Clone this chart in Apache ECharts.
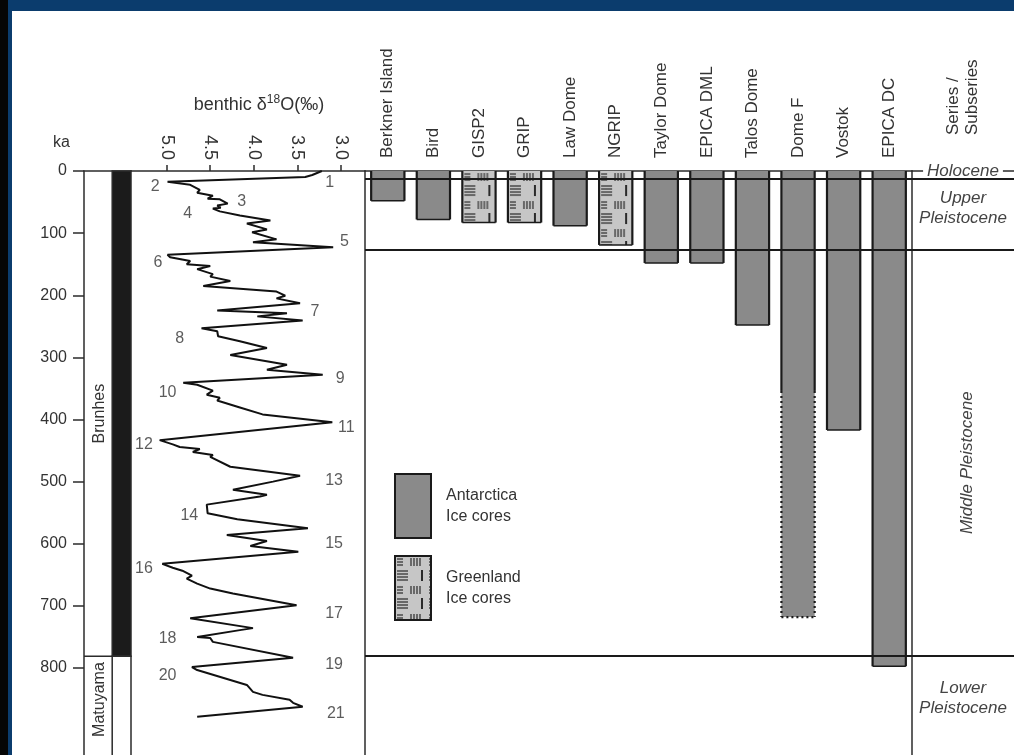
<!DOCTYPE html>
<html>
<head>
<meta charset="utf-8">
<script src="https://cdn.jsdelivr.net/npm/echarts@6/dist/echarts.min.js"></script>
<style>
html,body{margin:0;padding:0;background:#fff;}
#c{width:1014px;height:755px;}
</style>
</head>
<body>
<div id="c"></div>
<script>
// ---------- data ----------
const kaTicks = [0, 100, 200, 300, 400, 500, 600, 700, 800];
const d18oTicks = [5.0, 4.5, 4.0, 3.5, 3.0];

// benthic d18O curve
const curveKa = [0,6.4,9.6,17.5,22.3,30.3,35,39.8,44.6,45.5,52.5,55.7,59,60.5,65,71.6,79.6,84.4,94,98.7,110,114.6,122.6,
  135,139,145,150,153,158,166,170,177,185,194,200.7,205,213,224.6,229,234,240.5,253,258,266,274,285,296,312,320,328,
  341,344,353.6,360,365,369.5,380.6,391.8,404.5,
  433.2,440,444.3,447.5,452.3,457,460.2,476,490.5,500,513,521,524,537,551,560.6,575,586,595.6,603.6,613,
  632.3,638.6,643.4,651.4,656.2,664.1,672.1,680,699,719.9,735.8,739,750,751.6,757.9,783.4,
  798.5,803.3,827.2,838.4,843.2,851.2,856,862.4,878.3];
const curveD18o = [3.22,3.33,3.41,4.99,4.73,4.62,4.65,4.47,4.53,4.39,4.30,4.42,4.38,4.47,4.39,4.16,3.81,4.08,3.85,4.02,3.74,4.01,3.09,
  4.99,4.96,4.73,4.77,4.50,4.65,4.47,4.50,4.27,4.58,3.74,3.64,3.74,3.47,4.42,3.62,3.96,3.44,4.60,4.42,4.41,4.16,3.85,4.27,3.62,3.85,3.21,
  4.81,4.65,4.47,4.54,4.39,4.42,4.16,3.90,3.10,
  5.08,4.93,4.85,4.62,4.70,4.47,4.50,4.27,3.47,3.78,4.24,3.85,3.93,4.54,4.53,4.19,3.38,4.31,3.85,4.04,3.49,
  5.05,4.93,4.82,4.71,4.77,4.65,4.50,4.24,3.51,4.73,4.01,4.16,4.65,4.50,4.47,3.55,
  4.71,4.65,4.08,4.01,3.90,3.59,3.55,3.44,4.65];

// marine isotope stage labels
const misLabels = ['1','2','3','4','5','6','7','8','9','10','11','12','13','14','15','16','17','18','19','20','21'];
const misD18o = [3.13,5.13,4.14,4.76,2.96,5.10,3.30,4.85,3.01,4.99,2.94,5.26,3.08,4.74,3.08,5.26,3.08,4.99,3.08,4.99,3.06];
const misKa   = [19,25,49,69,113,148,226,270,334,357,413,440,499,555,600,640,713,753,795,812,873];

// ice cores
const cores = ['Berkner Island','Bird','GISP2','GRIP','Law Dome','NGRIP','Taylor Dome','EPICA DML','Talos Dome','Dome F','Vostok','EPICA DC'];
const coreRegion = ['Antarctica','Antarctica','Greenland','Greenland','Antarctica','Greenland','Antarctica','Antarctica','Antarctica','Antarctica','Antarctica','Antarctica'];
const coreEndKa = [48, 78, 83, 83, 88, 119, 148, 148, 248, 354, 417, 797];
const coreExtendedKa = [0, 0, 0, 0, 0, 0, 0, 0, 0, 718, 0, 0];

// magnetic polarity chrons
const chronNames = ['Brunhes', 'Matuyama'];
const chronStartKa = [0, 781];
const chronEndKa = [781, 2581];
const chronNormal = [true, false];

// series / subseries
const epochNames = ['Holocene', 'Upper\nPleistocene', 'Middle Pleistocene', 'Lower\nPleistocene'];
const epochStartKa = [0, 11.7, 126, 781];
const epochEndKa = [11.7, 126, 781, 1806];
const boundaryKa = [11.7, 126, 781];

// ---------- styling helpers ----------
const KA_MAX = 940;
const TOP = 171, H = 590;
const LINE = '#2b2b2b';
const TXT = '#333';
const FONT = '"Liberation Sans", Arial, Helvetica, sans-serif';

function makeHatch() {
  const c = document.createElement('canvas');
  c.width = 32; c.height = 28;
  const g = c.getContext('2d');
  g.fillStyle = '#c6c6c6'; g.fillRect(0, 0, 32, 28);
  g.strokeStyle = '#2a2a2a'; g.lineWidth = 1.2;
  const ln = (a, b, cx, d) => { g.beginPath(); g.moveTo(a, b); g.lineTo(cx, d); g.stroke(); };
  [3, 6, 9].forEach(y => ln(2, y, 8, y));
  [16, 19, 22, 25].forEach(x => ln(x, 2, x, 10));
  [15, 18, 21, 24].forEach(y => ln(2, y, 13, y));
  g.lineWidth = 2; ln(27, 14, 27, 25);
  return c;
}
const hatch = makeHatch();

function coreRender(isPattern) {
  return function (params, api) {
    const i = api.value(0), end = api.value(1), ext = api.value(2);
    const p0 = api.coord([i, 0]);
    const p1 = api.coord([i, end]);
    const w = api.size([1, 0])[0] * 0.73;
    const x0 = p0[0] - w / 2, x1 = p0[0] + w / 2;
    const fill = isPattern ? { image: hatch, repeat: 'repeat', x: x0, y: p0[1] } : '#8a8a8a';
    const side = { stroke: '#1a1a1a', lineWidth: 2.2 };
    const ch = [];
    ch.push({ type: 'rect', shape: { x: x0, y: p0[1], width: w, height: p1[1] - p0[1] }, style: { fill: fill } });
    ch.push({ type: 'line', shape: { x1: x0, y1: p0[1], x2: x0, y2: p1[1] }, style: side });
    ch.push({ type: 'line', shape: { x1: x1, y1: p0[1], x2: x1, y2: p1[1] }, style: side });
    if (ext > end) {
      const p2 = api.coord([i, ext]);
      const dot = { stroke: '#1a1a1a', lineWidth: 2.2, lineDash: [2, 3] };
      ch.push({ type: 'rect', shape: { x: x0, y: p1[1], width: w, height: p2[1] - p1[1] }, style: { fill: fill } });
      ch.push({ type: 'line', shape: { x1: x0, y1: p1[1], x2: x0, y2: p2[1] }, style: dot });
      ch.push({ type: 'line', shape: { x1: x1, y1: p1[1], x2: x1, y2: p2[1] }, style: dot });
      ch.push({ type: 'line', shape: { x1: x0, y1: p2[1], x2: x1, y2: p2[1] }, style: dot });
    } else {
      ch.push({ type: 'line', shape: { x1: x0, y1: p1[1], x2: x1, y2: p1[1] }, style: { stroke: '#1a1a1a', lineWidth: 1.5 } });
    }
    return { type: 'group', children: ch };
  };
}

function coreData(region) {
  const out = [];
  cores.forEach((c, i) => { if (coreRegion[i] === region) out.push([i, coreEndKa[i], coreExtendedKa[i]]); });
  return out;
}

const yBase = { type: 'value', min: 0, max: KA_MAX, inverse: true, splitLine: { show: false } };
const hidden = { type: 'value', min: 0, max: 1, show: false };

const option = {
  animation: false,
  backgroundColor: '#fff',
  textStyle: { fontFamily: FONT },
  graphic: [
    { type: 'rect', shape: { x: 0, y: 0, width: 1014, height: 11 }, style: { fill: '#0b3c6d' }, silent: true },
    { type: 'rect', shape: { x: 0, y: 0, width: 8, height: 755 }, style: { fill: '#050505' }, silent: true },
    { type: 'rect', shape: { x: 8, y: 11, width: 4, height: 744 }, style: { fill: '#0b3c6d' }, silent: true }
  ],
  grid: [
    { left: 84, width: 47, top: TOP, height: H },
    { left: 131, width: 234, top: TOP, height: H },
    { left: 365, width: 547, top: TOP, height: H },
    { left: 912, width: 102, top: TOP, height: H },
    { left: 365, width: 649, top: TOP, height: H }
  ],
  xAxis: [
    { gridIndex: 0, type: 'value', min: 0, max: 1, position: 'top',
      axisLine: { show: true, lineStyle: { color: LINE, width: 1.5 } }, axisTick: { show: false }, axisLabel: { show: false }, splitLine: { show: false } },
    { gridIndex: 1, type: 'value', min: 2.725, max: 5.409, inverse: true, position: 'top',
      axisLine: { show: true, lineStyle: { color: LINE, width: 1.5 } },
      axisTick: { show: true, customValues: d18oTicks, length: 6, lineStyle: { color: LINE, width: 1.5 } },
      axisLabel: { show: true, customValues: d18oTicks, rotate: -90, margin: 11, fontSize: 18, color: TXT,
        formatter: v => Number(v).toFixed(1) },
      splitLine: { show: false },
      name: 'benthic δ{sup|18}O(‰)', nameLocation: 'middle', nameGap: 55,
      nameTextStyle: { fontSize: 18, color: TXT, padding: [0, 0, 0, 22], rich: { sup: { fontSize: 12, color: TXT, padding: [0, 0, 10, 0] } } } },
    { gridIndex: 2, type: 'category', data: cores, position: 'top',
      axisLine: { show: true, lineStyle: { color: LINE, width: 1.5 } }, axisTick: { show: false },
      axisLabel: { show: true, rotate: 90, margin: 13, fontSize: 17, color: TXT, interval: 0 } },
    { gridIndex: 3, type: 'value', min: 0, max: 1, position: 'top',
      axisLine: { show: true, lineStyle: { color: LINE, width: 1.5 } }, axisTick: { show: false }, axisLabel: { show: false }, splitLine: { show: false },
      name: 'Series /\nSubseries', nameLocation: 'middle', nameRotate: 90, nameGap: 36,
      nameTextStyle: { fontSize: 17, color: TXT, lineHeight: 19, padding: [10, 0, 0, 0] } },
    Object.assign({ gridIndex: 4 }, hidden)
  ],
  yAxis: [
    Object.assign({ gridIndex: 0 }, yBase, {
      axisLine: { show: true, lineStyle: { color: LINE, width: 1.5 } },
      axisTick: { show: true, customValues: kaTicks, length: 11, lineStyle: { color: LINE, width: 1.5 } },
      axisLabel: { show: true, customValues: kaTicks, margin: 17, fontSize: 16, color: TXT },
      name: 'ka', nameLocation: 'start', nameGap: 20,
      nameTextStyle: { fontSize: 16, color: TXT, align: 'right', padding: [0, 14, 0, 0] } }),
    Object.assign({ gridIndex: 1 }, yBase, { show: false }),
    Object.assign({ gridIndex: 2 }, yBase, { axisLine: { show: true, lineStyle: { color: LINE, width: 1.5 } }, axisTick: { show: false }, axisLabel: { show: false } }),
    Object.assign({ gridIndex: 3 }, yBase, { axisLine: { show: true, lineStyle: { color: LINE, width: 1.5 } }, axisTick: { show: false }, axisLabel: { show: false } }),
    Object.assign({ gridIndex: 4 }, yBase, { show: false })
  ],
  legend: {
    orient: 'vertical', left: 389, top: 468, itemWidth: 36, itemHeight: 64, itemGap: 16, icon: 'rect',
    selectedMode: false,
    data: ['Antarctica\nIce cores', 'Greenland\nIce cores'],
    textStyle: { fontSize: 16, color: TXT, lineHeight: 21, padding: [0, 0, 0, 10] }
  },
  series: [
    { // magnetic polarity column
      type: 'custom', name: 'polarity', xAxisIndex: 0, yAxisIndex: 0, silent: true, z: 3,
      data: chronNames.map((n, i) => [i, chronStartKa[i], chronEndKa[i]]),
      encode: { y: [1, 2] },
      renderItem: function (params, api) {
        const i = api.value(0);
        const a = api.coord([0, api.value(1)]);
        const b = api.coord([1, api.value(2)]);
        const xm = api.coord([0.6, 0])[0];
        const ch = [];
        ch.push({ type: 'rect', shape: { x: xm, y: a[1], width: b[0] - xm, height: b[1] - a[1] },
          style: { fill: chronNormal[i] ? '#1b1b1b' : '#fff', stroke: LINE, lineWidth: 1.5 } });
        if (api.value(1) > 0) ch.push({ type: 'line', shape: { x1: a[0], y1: a[1], x2: b[0], y2: a[1] }, style: { stroke: LINE, lineWidth: 1.5 } });
        const cx = (a[0] + xm) / 2;
        const clipped = api.value(2) > KA_MAX;
        ch.push({ type: 'text', x: cx + 1, y: clipped ? a[1] + 6 : (a[1] + b[1]) / 2, rotation: Math.PI / 2,
          style: { text: chronNames[i], fontSize: 16, fill: TXT, fontFamily: FONT, align: clipped ? 'right' : 'center', verticalAlign: 'middle' } });
        return { type: 'group', children: ch };
      }
    },
    { // d18O curve
      type: 'line', name: 'benthic d18O', xAxisIndex: 1, yAxisIndex: 1, showSymbol: false, symbol: 'none', z: 4,
      lineStyle: { color: '#111', width: 2 },
      data: curveD18o.map((d, i) => [d, curveKa[i]])
    },
    { // MIS labels
      type: 'scatter', name: 'MIS', xAxisIndex: 1, yAxisIndex: 1, symbol: 'circle', symbolSize: 2,
      itemStyle: { color: 'rgba(0,0,0,0)' }, silent: true, z: 5,
      label: { show: true, position: 'inside', formatter: p => p.name, fontSize: 16, color: TXT },
      data: misLabels.map((m, i) => ({ name: m, value: [misD18o[i], misKa[i]] }))
    },
    {
      type: 'custom', name: 'Antarctica\nIce cores', xAxisIndex: 2, yAxisIndex: 2, z: 3,
      itemStyle: { color: '#8a8a8a', borderColor: '#1a1a1a', borderWidth: 2 },
      encode: { x: 0, y: [1, 2] },
      data: coreData('Antarctica'),
      renderItem: coreRender(false)
    },
    {
      type: 'custom', name: 'Greenland\nIce cores', xAxisIndex: 2, yAxisIndex: 2, z: 3,
      itemStyle: { color: { image: hatch, repeat: 'repeat' }, borderColor: '#1a1a1a', borderWidth: 2 },
      encode: { x: 0, y: [1, 2] },
      data: coreData('Greenland'),
      renderItem: coreRender(true)
    },
    { // series / subseries labels
      type: 'custom', name: 'epochs', xAxisIndex: 3, yAxisIndex: 3, silent: true, z: 4,
      data: epochNames.map((n, i) => [i, epochStartKa[i], epochEndKa[i]]),
      encode: { y: [1, 2] },
      renderItem: function (params, api) {
        const i = api.value(0);
        const a = api.coord([0.5, api.value(1)]);
        const b = api.coord([0.5, api.value(2)]);
        const st = { text: epochNames[i], fontSize: 17, fontStyle: 'italic', fill: '#444', fontFamily: FONT,
          align: 'center', verticalAlign: 'middle', lineHeight: 20 };
        if (b[1] - a[1] < 20) {
          return { type: 'text', x: a[0], y: a[1], style: Object.assign(st, { backgroundColor: '#fff', padding: [0, 4] }) };
        }
        if (api.value(2) > KA_MAX) {
          return { type: 'text', x: a[0], y: a[1] + 42, style: st };
        }
        if (b[1] - a[1] > 200) {
          return { type: 'text', x: a[0] + 4, y: (a[1] + b[1]) / 2 + 10, rotation: Math.PI / 2, style: st };
        }
        return { type: 'text', x: a[0], y: (a[1] + b[1]) / 2 - 6, style: st };
      }
    },
    { // chronostratigraphic boundaries
      type: 'line', name: 'boundaries', xAxisIndex: 4, yAxisIndex: 4, z: 6, silent: true,
      data: [[0, 0]], showSymbol: false, symbol: 'none', lineStyle: { opacity: 0 },
      markLine: { silent: true, symbol: 'none', label: { show: false },
        lineStyle: { color: '#1a1a1a', width: 2, type: 'solid' },
        data: boundaryKa.map(v => ({ yAxis: v })) }
    }
  ]
};

const chart = echarts.init(document.getElementById('c'), null, { renderer: 'canvas' });
chart.setOption(option);
</script>
</body>
</html>
